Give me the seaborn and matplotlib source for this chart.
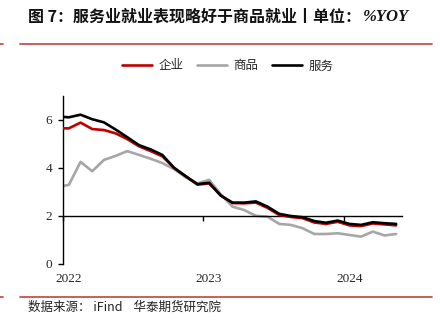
import matplotlib
matplotlib.use("Agg")
import matplotlib.pyplot as plt
from matplotlib.lines import Line2D
import seaborn as sns
import pandas as pd
import numpy as np

# ---- data ----
months = ["2021-12",
          "2022-01", "2022-02", "2022-03", "2022-04", "2022-05", "2022-06",
          "2022-07", "2022-08", "2022-09", "2022-10", "2022-11", "2022-12",
          "2023-01", "2023-02", "2023-03", "2023-04", "2023-05", "2023-06",
          "2023-07", "2023-08", "2023-09", "2023-10", "2023-11", "2023-12",
          "2024-01", "2024-02", "2024-03", "2024-04", "2024-05"]
qiye = [5.65, 5.65, 5.89, 5.62, 5.58, 5.44, 5.20, 4.90, 4.70, 4.48, 4.00, 3.65, 3.30,
        3.35, 2.85, 2.53, 2.52, 2.55, 2.33, 2.03, 1.95, 1.90, 1.72, 1.66, 1.75,
        1.60, 1.57, 1.68, 1.64, 1.60]
shangpin = [3.20, 3.29, 4.25, 3.86, 4.33, 4.50, 4.70, 4.54, 4.38, 4.20, 3.95, 3.60, 3.35,
            3.50, 2.90, 2.38, 2.24, 2.00, 1.96, 1.66, 1.62, 1.48, 1.24, 1.24, 1.27,
            1.20, 1.13, 1.34, 1.18, 1.24]
fuwu = [6.15, 6.11, 6.22, 6.03, 5.90, 5.60, 5.28, 4.95, 4.77, 4.54, 4.00, 3.65, 3.32,
        3.38, 2.84, 2.55, 2.55, 2.60, 2.38, 2.08, 1.99, 1.94, 1.78, 1.71, 1.80,
        1.66, 1.62, 1.73, 1.69, 1.66]
series_names = ["企业", "商品", "服务"]
colors = ["#C00000", "#A6A6A6", "#000000"]
year_labels = ["2022", "2023", "2024"]
y_ticks = [0, 2, 4, 6]

# ---- build table ----
dates = pd.PeriodIndex(months, freq="M")
base = pd.Period("2022-01", freq="M")
xpos = np.array([(d - base).n for d in dates]) + 0.5
df = pd.DataFrame({"x": np.tile(xpos, 3),
                   "value": qiye + shangpin + fuwu,
                   "series": np.repeat(series_names, len(months))})

sns.set_style("ticks")
plt.rcParams["font.family"] = ["Noto Sans CJK SC", "DejaVu Sans"]

fig = plt.figure(figsize=(4.4, 3.32), dpi=100)
ax = fig.add_axes([63 / 440, 1 - 263.7 / 332, (402 - 63) / 440, (263.7 - 96) / 332])

draw_order = ["商品", "企业", "服务"]
pal = dict(zip(series_names, colors))
for i, name in enumerate(draw_order):
    sub = df[df["series"] == name]
    sns.lineplot(data=sub, x="x", y="value", color=pal[name], lw=1.9,
                 ax=ax, zorder=2 + i, legend=False)

ax.set_xlim(0, 29)
ax.set_ylim(0, 7)
ax.set_xlabel("")
ax.set_ylabel("")

for s in ["top", "right"]:
    ax.spines[s].set_visible(False)
ax.spines["bottom"].set_position(("data", 2))
ax.spines["left"].set_bounds(0, 7)
for s in ["left", "bottom"]:
    ax.spines[s].set_color("black")
    ax.spines[s].set_linewidth(1.0)

serif = "Liberation Serif"
ax.set_yticks(y_ticks)
ax.set_yticklabels([str(v) for v in y_ticks], fontfamily=serif, fontsize=9.5)
ax.tick_params(axis="y", direction="out", length=3.5, width=1, color="black", pad=4.5)

ax.set_xticks([12 * k for k in range(len(year_labels))])
ax.set_xticklabels([])
ax.set_xticks([12 * k + 0.5 for k in range(len(year_labels))], minor=True)
ax.set_xticklabels(year_labels, minor=True, fontfamily=serif, fontsize=9.5)
ax.tick_params(axis="x", which="major", direction="out", length=3.5, width=1, color="black")
ax.tick_params(axis="x", which="minor", length=0, pad=41)

# legend
handles = [Line2D([0], [0], color=c, lw=1.9) for c in colors]
fig.legend(handles, series_names, loc="center", bbox_to_anchor=(227.5 / 440, 1 - 66 / 332),
           ncol=3, frameon=False, fontsize=9, handlelength=2.4, handletextpad=0.55,
           columnspacing=1.05)

# title
fig.text(28 / 440, 1 - 17 / 332, "图 7：服务业就业表现略好于商品就业丨单位：",
         fontsize=11.5, fontweight="bold", va="center", ha="left", color="#111111")
fig.text(363 / 440, 1 - 17 / 332, "%YOY", fontsize=12, fontweight="bold",
         fontstyle="italic", fontfamily=serif, va="center", ha="left", color="#111111")

# red rules
rule_color = "#C8504E"
for yy in [44, 296.5]:
    fig.add_artist(Line2D([20 / 440, 432 / 440], [1 - yy / 332] * 2, color=rule_color, lw=1.3))
    fig.add_artist(Line2D([0, 3 / 440], [1 - yy / 332] * 2, color=rule_color, lw=1.3))

# source
fig.text(28 / 440, 1 - 307 / 332, "数据来源： iFind    华泰期货研究院", fontsize=9,
         va="center", ha="left", color="#222222")

fig.savefig("out.png", dpi=100)
